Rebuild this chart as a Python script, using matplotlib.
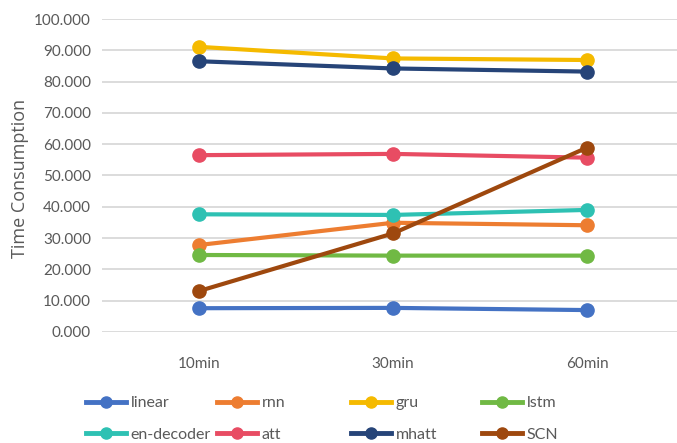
import matplotlib
matplotlib.use("Agg")
from matplotlib import pyplot as plt
from matplotlib.lines import Line2D

plt.rcParams['font.family'] = ['Lato', 'DejaVu Sans']

intervalos = ["10min", "30min", "60min"]
modelos = ["linear", "rnn", "gru", "lstm", "en-decoder", "att", "mhatt", "SCN"]

linear = [7.6, 7.7, 7.0]
rnn = [27.8, 34.9, 34.1]
gru = [91.1, 87.4, 86.9]
lstm = [24.6, 24.4, 24.4]
en_decoder = [37.6, 37.4, 39.0]
att = [56.5, 56.9, 55.7]
mhatt = [86.5, 84.2, 83.2]
scn = [13.1, 31.5, 58.9]

series = [linear, rnn, gru, lstm, en_decoder, att, mhatt, scn]
colores = ["#4472C4", "#ED7D31", "#F5BA00", "#70B944",
           "#2EC1B3", "#E84C63", "#264478", "#9E480E"]

gris = "#595959"

fig = plt.figure(figsize=(6.77, 4.43), dpi=100)
ax = fig.add_axes([0.151, 0.2506, 0.849, 0.7065])

x = list(range(len(intervalos)))
orden_dibujo = [0, 1, 3, 4, 5, 2, 6, 7]
for i in orden_dibujo:
    ax.plot(x, series[i], color=colores[i], lw=3, marker="o", ms=9.5,
            solid_capstyle="round", zorder=3 + i * 0.1)

ax.set_xlim(-0.5, 2.464)
ax.set_ylim(0, 100)
ax.set_yticks(range(0, 101, 10))
ax.set_yticklabels([f"{v:.3f}" for v in range(0, 101, 10)])
ax.set_xticks(x)
ax.set_xticklabels(intervalos)
ax.grid(axis="y", color="#D9D9D9", lw=1.3)
ax.set_axisbelow(True)
for s in ax.spines.values():
    s.set_visible(False)
ax.tick_params(length=0, labelsize=11, colors=gris)
ax.tick_params(axis="x", pad=18)
ax.tick_params(axis="y", pad=8)
ax.set_ylabel("Time Consumption", fontsize=13, color=gris,
              family=["Open Sans", "DejaVu Sans"])
ax.yaxis.set_label_coords(-0.128, 0.489)

# leyenda en 4 columnas fijas
columnas_x = [0.127, 0.3205, 0.518, 0.712]
for c in range(4):
    handles = []
    for fila in range(2):
        k = fila * 4 + c
        handles.append(Line2D([], [], color=colores[k], lw=3.5, marker="o", ms=8,
                              label=modelos[k]))
    fig.legend(handles=handles, loc="upper left",
               bbox_to_anchor=(columnas_x[c], 0.106), frameon=False,
               fontsize=11.5, labelcolor=gris, handlelength=2.5,
               handletextpad=0.3, labelspacing=1.1, borderpad=0,
               borderaxespad=0)

fig.savefig("out.png", dpi=100)
